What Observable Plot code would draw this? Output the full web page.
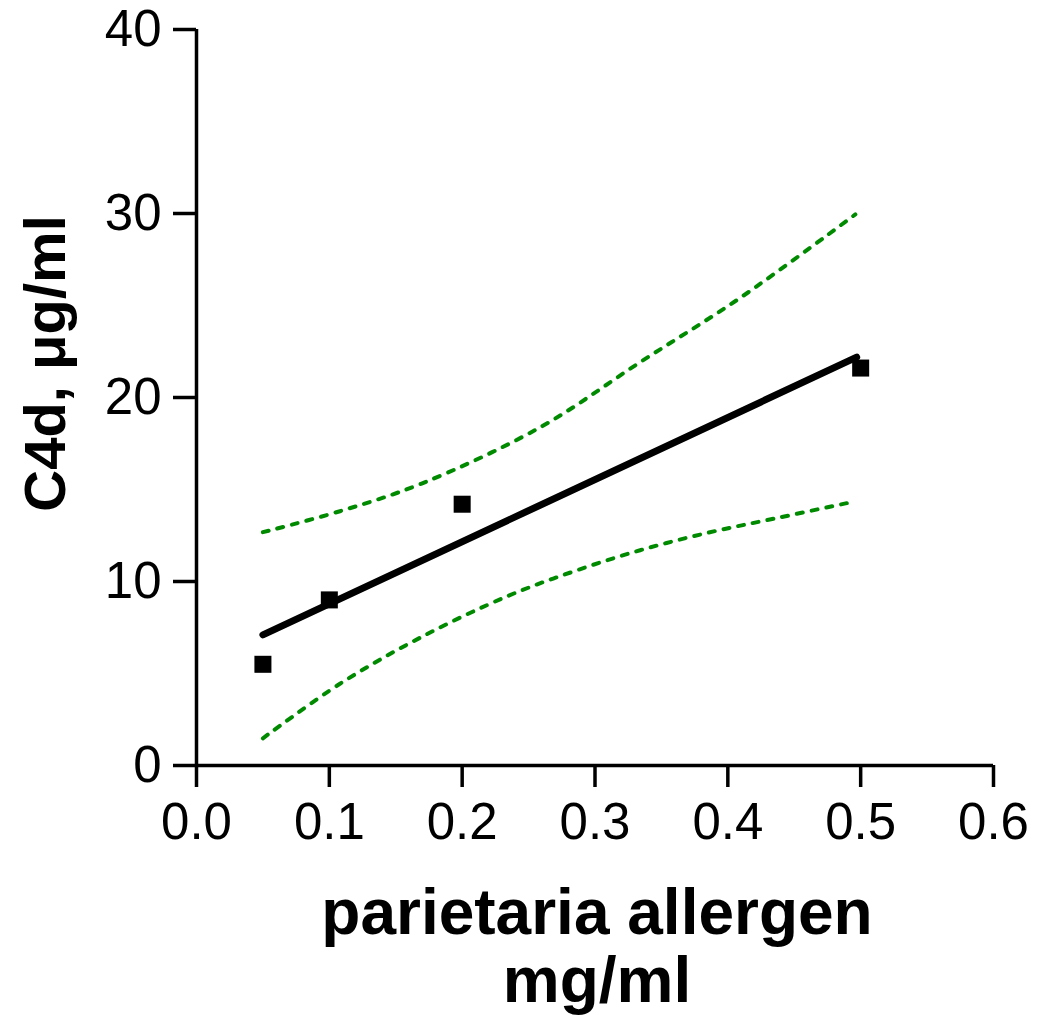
<!DOCTYPE html>
<html>
<head>
<meta charset="utf-8">
<script src="https://cdn.jsdelivr.net/npm/d3@7"></script>
<script src="https://cdn.jsdelivr.net/npm/@observablehq/plot@0.6"></script>
<style>
  html, body { margin: 0; padding: 0; background: #fff; }
  #chart svg { display: block; }
</style>
</head>
<body>
<div id="chart"></div>
<script>
// Data points: parietaria allergen (mg/ml) vs C4d (µg/ml)
const pointX = [0.05, 0.1, 0.2, 0.5];
const pointY = [5.5, 9.0, 14.2, 21.6];

// Regression line endpoints
const fitX = [0.05, 0.497];
const fitY = [7.1, 22.19];

// 95% confidence band (upper / lower)
const upperX = [0.05, 0.108, 0.169, 0.259, 0.334, 0.410, 0.496];
const upperY = [12.68, 13.82, 15.31, 18.39, 21.92, 25.45, 29.95];
const lowerX = [0.05, 0.108, 0.169, 0.234, 0.284, 0.334, 0.385, 0.435, 0.493];
const lowerY = [1.48, 4.44, 6.97, 9.2, 10.55, 11.7, 12.65, 13.42, 14.31];

const xTicks = [0, 0.1, 0.2, 0.3, 0.4, 0.5, 0.6];
const yTicks = [0, 10, 20, 30, 40];

const xTitle = "parietaria allergen\nmg/ml";
const yTitle = "C4d, \u03bcg/ml";

const points = pointX.map((x, i) => ({x, y: pointY[i]}));
const fit = fitX.map((x, i) => ({x, y: fitY[i]}));
const upper = upperX.map((x, i) => ({x, y: upperY[i]}));
const lower = lowerX.map((x, i) => ({x, y: lowerY[i]}));

const font = "'Liberation Sans', Arial, Helvetica, sans-serif";
const green = "#008a00";

const chart = Plot.plot({
  width: 1037,
  height: 1015,
  marginLeft: 196,
  marginRight: 44,
  marginTop: 29,
  marginBottom: 250,
  style: {fontFamily: font, background: "#fff", color: "#000", overflow: "visible"},
  x: {domain: [0, 0.6]},
  y: {domain: [0, 40]},
  marks: [
    Plot.axisY({ticks: yTicks, tickSize: 23, tickPadding: 12, fontSize: 51, label: null, strokeWidth: 3.5, tickFormat: d3.format("d")}),
    Plot.axisX({ticks: xTicks, tickSize: 22, tickPadding: 15, fontSize: 51, label: null, strokeWidth: 3.5, tickFormat: d3.format(".1f")}),
    Plot.ruleX([0], {y1: 0, y2: 40, strokeWidth: 3.5}),
    Plot.ruleY([0], {x1: 0, x2: 0.6, strokeWidth: 3.5}),
    Plot.line(upper, {x: "x", y: "y", stroke: green, strokeWidth: 4, strokeDasharray: "6,9", strokeLinecap: "round", curve: "catmull-rom"}),
    Plot.line(lower, {x: "x", y: "y", stroke: green, strokeWidth: 4, strokeDasharray: "6,9", strokeLinecap: "round", curve: "catmull-rom"}),
    Plot.line(fit, {x: "x", y: "y", stroke: "#000", strokeWidth: 7, strokeLinecap: "round"}),
    Plot.dot(points, {x: "x", y: "y", symbol: "square", r: 9.6, fill: "#000", stroke: "none"}),
    Plot.text([xTitle], {frameAnchor: "bottom", textAnchor: "middle", lineAnchor: "top", dy: 120, dx: 2, fontSize: 64, fontWeight: "bold", lineHeight: 1.06}),
    Plot.text([yTitle], {frameAnchor: "left", textAnchor: "middle", lineAnchor: "bottom", rotate: -90, dx: -132, dy: -34, fontSize: 58, fontWeight: "bold"})
  ]
});
document.getElementById("chart").appendChild(chart);
</script>
</body>
</html>
